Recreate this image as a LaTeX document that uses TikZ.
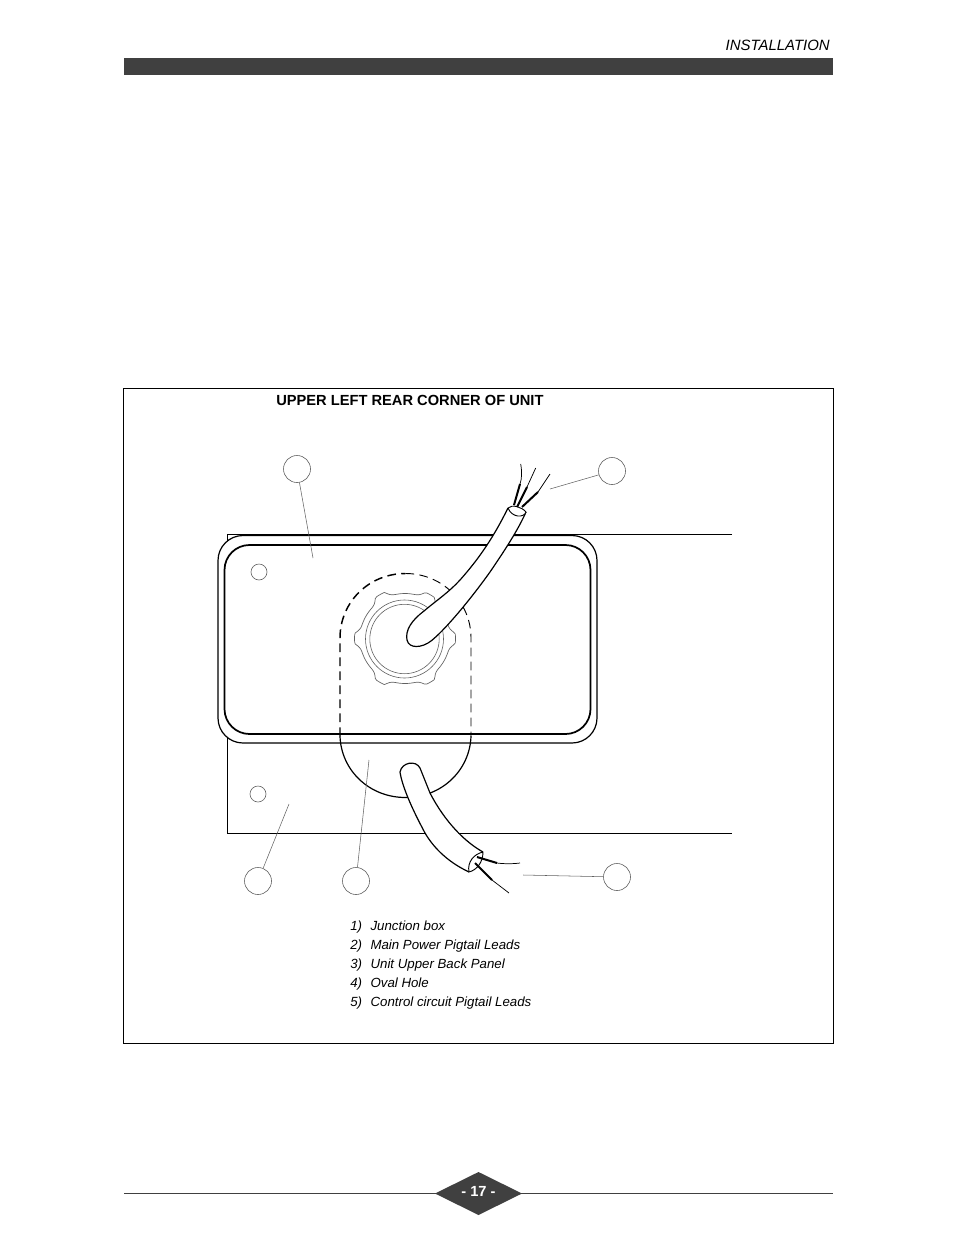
\documentclass[tikz,border=0pt]{standalone}
\usepackage{fontspec}
\setmainfont{Liberation Sans}
\definecolor{bar}{rgb}{0.25,0.25,0.25}
\definecolor{gray}{rgb}{0.38,0.38,0.38}
\tikzset{
	callout/.style={draw=gray, line width=0.45pt, circle, minimum size=20.25pt, inner sep=0pt},
	leader/.style={draw=gray, line width=0.4pt},
	panel/.style={line width=0.6pt},
	box/.style={fill=white, rounded corners=18.75pt},
	cable/.style={fill=white, line width=0.9pt, line join=round},
	lead/.style={line width=0.55pt},
	leadbase/.style={line width=1.5pt},
	legend/.style={anchor=base west, inner sep=0pt, font=\fontsize{9.95}{12}\selectfont\itshape}
}
\begin{document}
\begin{tikzpicture}[x=0.75pt,y=-0.75pt]
	\useasboundingbox (0,0) rectangle (954,1235);
	%Header
	\fill[bar] (124,58) rectangle (833,75);
	\node[anchor=base east, inner sep=0pt, font=\fontsize{11.2}{13}\selectfont\itshape] (section) at (830,50.5) {INSTALLATION};
	%Frame
	\draw[panel] (123.5,388) rectangle (833.5,1043.5);
	\node[anchor=base west, inner sep=0pt, font=\fontsize{11}{13}\selectfont\bfseries] (title) at (276,405) {UPPER LEFT REAR CORNER OF UNIT};

	%Back panel
	\draw[panel] (732,534.5) -- (227.5,534.5) -- (227.5,833.5) -- (732,833.5);
	\draw[gray, line width=0.45pt] (258,794) circle (8);

	%Junction box
	\draw[box, line width=0.9pt] (218,535.5) rectangle (597,743);
	\draw[box, line width=1.3pt] (224.5,545) rectangle (590.5,734);
	\draw[gray, line width=0.45pt] (259,572) circle (8);

	%Nut
	\draw[gray, line width=0.5pt] plot[smooth cycle, samples=145, domain=0:357.5] ({405+(45+5.5*min(1,1.6*pow(cos(3*\x),10)))*cos(\x)},{638.5+(45+5.5*min(1,1.6*pow(cos(3*\x),10)))*sin(\x)});
	\draw[gray, line width=0.45pt] (404.5,639) circle (39);
	\draw[gray, line width=0.45pt] (404.5,639) circle (34.7);

	%Oval hole
	\draw[dashed, dash pattern=on 6.5pt off 4pt, line width=1.1pt] (340,736) -- (340,638) .. controls (340,602) and (369,573.5) .. (405.5,573.5);
	\draw[dashed, dash pattern=on 6.5pt off 4pt, line width=0.7pt] (405.5,573.5) .. controls (442,573.5) and (471,602) .. (471,638) -- (471,736);
	\draw[line width=0.9pt] (340,736) .. controls (341,770) and (369,797.5) .. (405.5,797.5) .. controls (442,797.5) and (470,770) .. (471,736);

	%Main power cable
	\draw[cable] (508,508) .. controls (498,528) and (485,552) .. (460,580) .. controls (448,593) and (437,600) .. (424,611) .. controls (412,620) and (405,630) .. (407,640) .. controls (409,649) and (422,648) .. (431,641) .. controls (445,630) and (470,600) .. (490,572) .. controls (505,550) and (518,530) .. (526,512);
	\draw[cable, line width=0.7pt] (508,508) .. controls (512,504) and (522,507) .. (526,512) .. controls (524,518) and (512,518) .. (508,508);
	\draw[lead] (520.7,464) .. controls (522,472) and (522,478) .. (520,484);
	\draw[leadbase] (520,484) -- (514,505);
	\draw[lead] (535.7,468) -- (527,487);
	\draw[leadbase] (527,487) -- (517,507);
	\draw[lead] (550,474) -- (538,492);
	\draw[leadbase] (538,492) -- (522,507);

	%Control cable
	\draw[cable] (483,852) .. controls (465,842) and (445,822) .. (430,793) -- (420,768) .. controls (416,760) and (402,762) .. (400,772) .. controls (402,785) and (410,805) .. (425,833) .. controls (435,850) and (450,863) .. (469,872);
	\draw[cable, line width=0.7pt] (483,852) .. controls (474,854) and (467,862) .. (469,872) .. controls (477,870) and (483,862) .. (483,852);
	\draw[lead] (497,863) .. controls (505,864) and (512,864) .. (520,863);
	\draw[leadbase] (477,857) -- (497,863);
	\draw[lead] (492,880) -- (509,893);
	\draw[leadbase] (475,863) -- (492,880);

	%Callouts
	\node[callout] (boxcall) at (297,469) {};
	\node[callout] (maincall) at (612,471) {};
	\node[callout] (panelcall) at (258,881) {};
	\node[callout] (ovalcall) at (356,881) {};
	\node[callout] (ctrlcall) at (617,877) {};
	\coordinate (boxend) at (313,558);
	\coordinate (mainend) at (550,489);
	\coordinate (panelend) at (289,804);
	\coordinate (ovalend) at (369,760);
	\coordinate (ctrlend) at (523,875);
	\draw[leader] (boxcall) -- (boxend);
	\draw[leader] (maincall) -- (mainend);
	\draw[leader] (panelcall) -- (panelend);
	\draw[leader] (ovalcall) -- (ovalend);
	\draw[leader] (ctrlcall) -- (ctrlend);

	%Legend
	\foreach \n/\y/\t in {1/930/Junction box, 2/949/Main Power Pigtail Leads, 3/968/Unit Upper Back Panel, 4/987.5/Oval Hole, 5/1006.5/Control circuit Pigtail Leads}{
		\node[legend] (num\n) at (350,\y) {\n)};
		\node[legend] (item\n) at (370.3,\y) {\t};
	}

	%Footer
	\draw[bar, line width=0.5pt] (124,1193) -- (833,1193);
	\fill[bar] (435,1193.5) -- (478.5,1172) -- (522,1193.5) -- (478.5,1215) -- cycle;
	\node[text=white, inner sep=0pt, font=\fontsize{11}{13}\selectfont\bfseries] (page) at (478.5,1191.5) {- 17 -};
\end{tikzpicture}
\end{document}
